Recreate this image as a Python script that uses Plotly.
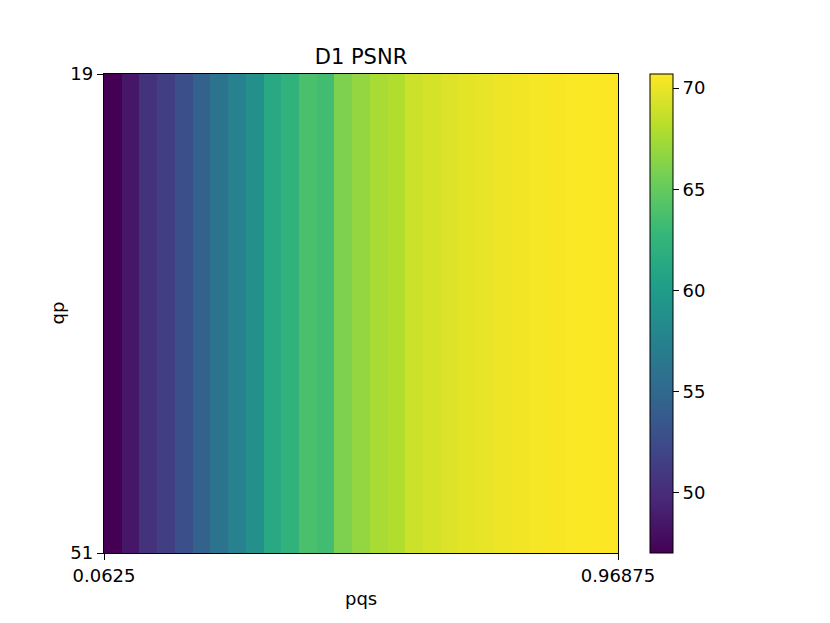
import numpy as np
import plotly.graph_objects as go

# D1 PSNR per pqs column (constant over qp)
psnr_by_column = [
    47.0, 48.5, 50.4, 51.4, 52.9, 54.5, 56.0, 57.4, 58.85, 61.2,
    62.3, 63.8, 63.4, 66.0, 66.8, 67.6, 67.9, 68.9, 69.2, 69.5,
    69.8, 69.95, 70.1, 70.25, 70.4, 70.5, 70.6, 70.65, 70.7,
]
pqs_range = [0.0625, 0.96875]
qp_range = [19, 51]
n_qp_rows = 8
x_tick_labels = ["0.0625", "0.96875"]
y_tick_labels = ["19", "51"]
cbar_ticks = [50, 55, 60, 65, 70]

# cell edges (imshow-like extent)
x_edges = np.linspace(pqs_range[0], pqs_range[1], len(psnr_by_column) + 1)
y_edges = np.linspace(qp_range[0], qp_range[1], n_qp_rows + 1)
z = np.tile(psnr_by_column, (n_qp_rows, 1))

W, H = 830, 623
OFF = 8  # default page body margin
L, R, T, B = 104 - OFF, 618 - OFF, 74 - OFF, 553 - OFF
font = "DejaVu Sans"

fig = go.Figure(go.Heatmap(
    x=x_edges, y=y_edges, z=z,
    colorscale="Viridis",
    colorbar=dict(
        x=(650 - 104) / (618 - 104), xanchor="left", xref="paper",
        y=0.5, yanchor="middle", len=1, lenmode="fraction",
        thickness=23, thicknessmode="pixels",
        outlinewidth=1, outlinecolor="black",
        tickvals=cbar_ticks, ticks="outside", ticklen=6, tickwidth=1,
        tickcolor="black", tickfont=dict(family=font, size=18, color="black"),
        xpad=0, ypad=0,
    ),
    hoverongaps=False,
))

fig.update_xaxes(
    range=pqs_range, tickvals=pqs_range, ticktext=x_tick_labels,
    ticks="outside", ticklen=6, tickwidth=1, tickcolor="black",
    showline=True, linecolor="black", linewidth=1.3, mirror=True,
    showgrid=False, zeroline=False,
    tickfont=dict(family=font, size=18, color="black"),
)
fig.update_yaxes(
    range=[qp_range[1], qp_range[0]], tickvals=qp_range, ticktext=y_tick_labels,
    ticks="outside", ticklen=6, tickwidth=1, tickcolor="black",
    showline=True, linecolor="black", linewidth=1.3, mirror=True,
    showgrid=False, zeroline=False,
    tickfont=dict(family=font, size=18, color="black"),
)

fig.update_layout(
    width=W, height=H,
    margin=dict(l=L, r=W - R, t=T, b=H - B, pad=0),
    paper_bgcolor="white", plot_bgcolor="white",
    title=dict(text="D1 PSNR", x=0.5, xref="paper", xanchor="center",
               y=1 - (57 - OFF) / H, yref="container", yanchor="middle",
               font=dict(family=font, size=21, color="black")),
    annotations=[
        dict(text="pqs", xref="paper", yref="paper", x=0.5, y=-(598 - 553) / (553 - 74),
             xanchor="center", yanchor="middle", showarrow=False,
             font=dict(family=font, size=18, color="black")),
        dict(text="qp", xref="paper", yref="paper", x=-(104 - 57) / (618 - 104), y=0.5,
             xanchor="center", yanchor="middle", showarrow=False, textangle=-90,
             font=dict(family=font, size=18, color="black")),
    ],
)

fig.write_html("out.html")
